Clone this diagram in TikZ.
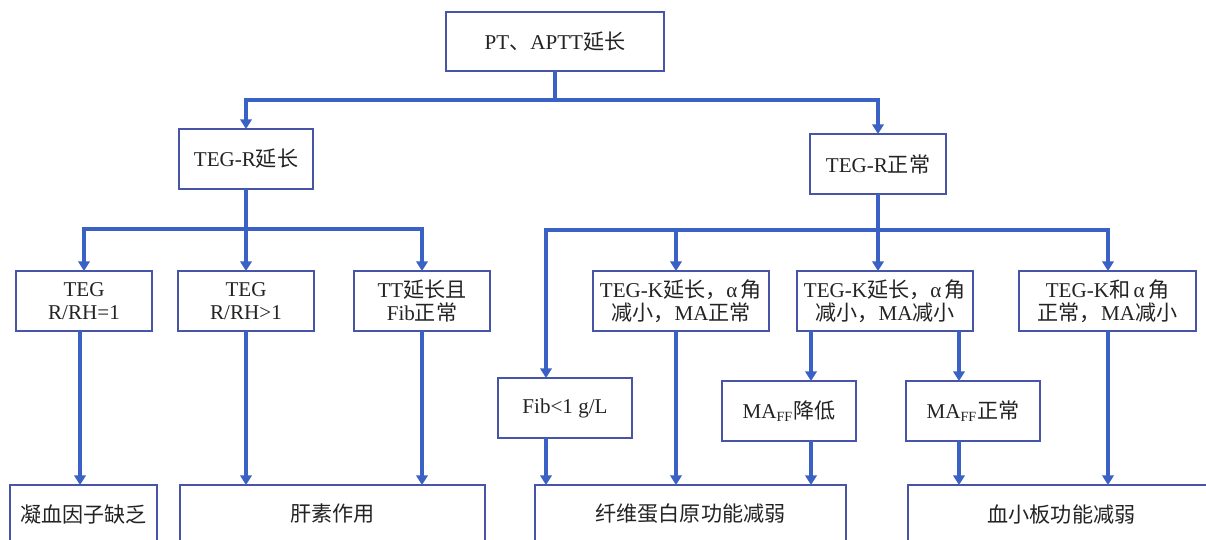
\documentclass[tikz,border=0pt]{standalone}
\usepackage{fontspec}
\setmainfont{Liberation Serif}
\newfontfamily\cjk{Noto Sans CJK SC}
\usetikzlibrary{arrows.meta}
\definecolor{lnblue}{RGB}{58,98,196}
\definecolor{bxblue}{RGB}{72,84,168}
\definecolor{txt}{RGB}{35,35,35}
\newcommand{\mybox}[6]{\node[box, minimum width={(#4-#2)*0.02cm}, minimum height={(#5-#3)*0.02cm}] (#1) at ({(#2+#4)/2},{(#3+#5)/2}) {#6};}
\begin{document}
\begin{tikzpicture}[x=0.02cm,y=-0.02cm,
  box/.style={draw=bxblue, line width=0.9pt, fill=white, inner sep=0pt, outer sep=0pt, align=center, text=txt, font=\fontsize{12}{13}\selectfont},
  ln/.style={draw=lnblue, line width=1.8pt},
  arr/.style={ln, -{Triangle[width=6.5pt,length=5.5pt]}}]
\useasboundingbox (0,0) rectangle (1206,539);
\clip (0,0) rectangle (1206,539);
% boxes
\mybox{A}{446}{12}{664}{71}{PT{\cjk 、}APTT{\cjk 延长}}
\mybox{B}{179}{129}{313}{189}{TEG-R{\cjk 延长}}
\mybox{C}{810}{134}{946}{194}{TEG-R{\cjk 正常}}
\mybox{D1}{16}{271}{152}{331}{TEG\\R/RH=1}
\mybox{D2}{178}{271}{314}{331}{TEG\\R/RH>1}
\mybox{D3}{354}{271}{490}{331}{TT{\cjk 延长且}\\Fib{\cjk 正常}}
\mybox{E1}{593}{271}{769}{331}{TEG-K{\cjk 延长，}α\,{\cjk 角}\\{\cjk 减小，}MA{\cjk 正常}}
\mybox{E2}{797}{271}{973}{331}{TEG-K{\cjk 延长，}α\,{\cjk 角}\\{\cjk 减小，}MA{\cjk 减小}}
\mybox{E3}{1019}{271}{1196}{331}{TEG-K{\cjk 和}\,α\,{\cjk 角}\\{\cjk 正常，}MA{\cjk 减小}}
\mybox{F1}{498}{378}{632}{438}{Fib<1 g/L}
\mybox{F2}{722}{381}{856}{441}{MA\textsubscript{FF}{\cjk 降低}}
\mybox{F3}{906}{381}{1040}{441}{MA\textsubscript{FF}{\cjk 正常}}
\mybox{G1}{10}{485}{157}{543}{{\cjk 凝血因子缺乏}}
\mybox{G2}{180}{485}{485}{543}{{\cjk 肝素作用}}
\mybox{G3}{535}{485}{846}{543}{{\cjk 纤维蛋白原功能减弱}}
\mybox{G4}{908}{485}{1215}{543}{{\cjk 血小板功能减弱}}
% columns
\coordinate (x80) at (80,0);
\coordinate (x546) at (546,0);
\coordinate (x676) at (676,0);
\coordinate (x811) at (811,0);
\coordinate (x959) at (959,0);
\coordinate (x1108) at (1108,0);
% connectors
\coordinate (j0) at (555,100);
\draw[ln] (A.south) -- (j0);
\draw[arr] (j0) -| (B.north);
\draw[arr] (j0) -| (C.north);
\path (B.south) ++(0,40) coordinate (jL);
\draw[ln] (B.south) -- (jL);
\draw[arr] (jL) -| (D1.north);
\draw[arr] (jL) -- (D2.north);
\draw[arr] (jL) -| (D3.north);
\draw[arr] (D1.south -| x80) -- (G1.north -| x80);
\draw[arr] (D2.south) -- (G2.north -| D2.south);
\draw[arr] (D3.south) -- (G2.north -| D3.south);
\path (C.south) ++(0,36) coordinate (jR);
\draw[ln] (C.south) -- (jR);
\draw[arr] (jR) -| (F1.north -| x546);
\draw[arr] (jR) -| (E1.north -| x676);
\draw[arr] (jR) -- (E2.north -| jR);
\draw[arr] (jR) -| (E3.north -| x1108);
\draw[arr] (F1.south -| x546) -- (G3.north -| x546);
\draw[arr] (E1.south -| x676) -- (G3.north -| x676);
\draw[arr] (E2.south -| x811) -- (F2.north -| x811);
\draw[arr] (F2.south -| x811) -- (G3.north -| x811);
\draw[arr] (E2.south -| x959) -- (F3.north -| x959);
\draw[arr] (F3.south -| x959) -- (G4.north -| x959);
\draw[arr] (E3.south -| x1108) -- (G4.north -| x1108);
\end{tikzpicture}
\end{document}
